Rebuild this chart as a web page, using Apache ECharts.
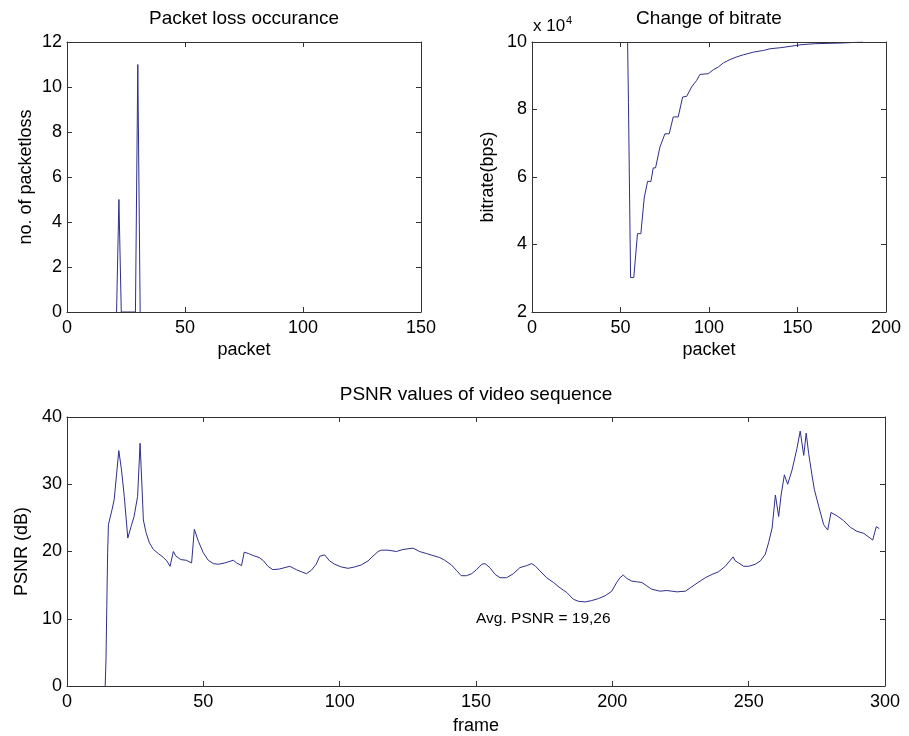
<!DOCTYPE html>
<html>
<head>
<meta charset="utf-8">
<script src="https://cdn.jsdelivr.net/npm/echarts@6/dist/echarts.min.js"></script>
<style>
html,body{margin:0;padding:0;background:#fff;}
#c{width:909px;height:736px;}
</style>
</head>
<body>
<div id="c"></div>
<script>
// ---- Packet loss occurance ----
var lossPacket = [21, 22, 23, 29, 30, 31];
var lossCount  = [0, 5, 0, 0, 11, 0];

// ---- Change of bitrate ----
var ratePacket = [54, 54.5, 55.3, 55.7, 57.5, 59.6, 61.5, 63.4, 64.3, 65.3, 67.2, 68.5, 69.8, 72.3, 75.1, 77.5, 79.8, 82.6, 85.1, 87.4, 90.2, 93.0, 94.9, 99.6, 102.5, 105.3, 108.1, 111.9, 115.7, 119.4, 125.1, 130.8, 134.5, 140.2, 145.8, 152, 160, 175, 187];
var rateBps    = [100000, 82000, 47000, 30200, 30200, 43200, 43200, 53800, 53800, 58700, 58700, 62700, 62700, 68900, 72800, 72800, 77800, 77800, 83700, 83900, 86700, 88600, 90400, 90600, 91800, 92600, 93800, 94800, 95600, 96200, 97000, 97500, 98000, 98300, 98700, 99200, 99500, 99700, 100000];

// ---- PSNR values of video sequence ----
var frames = [14.0,14.3,14.6,14.9,15.2,16.5,17.3,19.0,20.0,21.0,22.3,23.5,24.6,25.9,26.8,27.6,28.0,29.0,30.2,31.7,33.5,35.4,36.6,37.8,39.0,40.0,41.7,43.7,45.7,46.7,48.2,50.0,51.8,53.7,55.5,57.9,61.0,62.2,64.0,65.0,66.5,68.3,70.5,72.1,73.7,75.5,78.0,81.7,84.1,85.9,87.8,89.6,91.4,92.7,94.5,96.3,98.2,100.6,103.1,105.5,107.9,110.4,112.2,114.1,115.3,117.7,120.8,123.2,126.9,129.3,131.8,134.2,136.7,138.5,141.0,142.8,144.6,146.5,148.4,150.2,152.1,153.3,155.1,157.0,158.8,161.2,163.7,166.1,168.6,170.4,171.6,173.5,175.9,178.4,180.8,183.3,185.7,187.5,190.0,192.4,194.9,197.3,199.8,201.6,202.8,204.0,205.3,207.1,208.9,210.8,212.6,214.4,217.5,220.0,223.7,226.8,228.6,231.1,234.1,236.6,239.0,241.4,244.3,245.1,246.3,248.2,250.0,252.4,254.3,256.1,257.3,258.6,259.8,261.0,261.9,263.1,264.3,265.9,267.7,268.9,270.2,271.1,272.0,273.2,274.1,275.7,277.5,279.0,280.2,282.4,284.8,287.3,289.7,292.2,295.5,296.1,296.8,297.9];
var psnr = [0,4,12,19.8,24,26.2,27.7,35,32.1,28.2,22.0,23.7,25.2,28.2,36.1,28.7,24.7,22.8,21.3,20.3,19.7,19.1,18.6,17.8,20.0,19.3,18.8,18.7,18.3,23.3,21.5,19.8,18.7,18.2,18.1,18.3,18.7,18.3,17.9,19.9,19.7,19.4,19.1,18.6,17.8,17.3,17.4,17.8,17.3,17.0,16.7,17.2,18.1,19.3,19.5,18.6,18.1,17.7,17.5,17.7,18.0,18.6,19.3,20.0,20.2,20.2,20.0,20.3,20.5,20.0,19.7,19.4,19.1,18.7,18.0,17.2,16.4,16.4,16.7,17.3,18.1,18.2,17.6,16.6,16.1,16.1,16.7,17.6,17.9,18.2,17.9,17.1,16.1,15.4,14.6,13.9,12.9,12.6,12.5,12.7,13.0,13.4,14.1,15.4,16.1,16.5,16.0,15.6,15.5,15.4,14.9,14.4,14.1,14.2,14.0,14.1,14.6,15.3,16.1,16.6,17.0,17.8,19.2,18.6,18.3,17.8,17.8,18.1,18.6,19.6,21.3,23.5,28.4,25.2,28.4,31.4,30.0,32.1,35.3,37.9,34.3,37.6,34.6,31.4,29.2,26.7,24.0,23.2,25.8,25.3,24.6,23.6,23.0,22.7,21.7,21.7,23.7,23.4];
var avgLabel = 'Avg. PSNR = 19,26';
var avgPos = [150, 10];

function pairs(xs, ys) { return xs.map(function (x, i) { return [x, ys[i]]; }); }

var FONT = 'Liberation Sans, Arial, Helvetica, sans-serif';
var AX = '#333333';
var LINE = '#2e2e8c';

function xAx(grid, min, max, interval, name, top, gap) {
  return {
    type: 'value', gridIndex: grid, min: min, max: max, interval: interval,
    position: top ? 'top' : 'bottom', z: 5,
    name: top ? '' : name, nameLocation: 'middle', nameGap: gap || 29,
    nameTextStyle: { fontSize: 18, color: '#000', fontFamily: FONT },
    axisLine: { show: true, onZero: false, lineStyle: { color: AX, width: 1 } },
    axisTick: { show: true, inside: true, length: 5, lineStyle: { color: AX } },
    axisLabel: { show: !top, fontSize: 18, color: '#000', margin: 7, fontFamily: FONT },
    splitLine: { show: false }
  };
}
function yAx(grid, min, max, interval, name, right, fmt, gap) {
  return {
    type: 'value', gridIndex: grid, min: min, max: max, interval: interval,
    position: right ? 'right' : 'left', z: 5,
    name: right ? '' : name, nameLocation: 'middle', nameGap: gap || 33,
    nameTextStyle: { fontSize: 18, color: '#000', fontFamily: FONT },
    axisLine: { show: true, onZero: false, lineStyle: { color: AX, width: 1 } },
    axisTick: { show: true, inside: true, length: 5, lineStyle: { color: AX } },
    axisLabel: { show: !right, fontSize: 18, color: '#000', margin: 5, fontFamily: FONT, formatter: fmt },
    splitLine: { show: false }
  };
}

var chart = echarts.init(document.getElementById('c'), null, { renderer: 'canvas' });
var tStyle = { fontSize: 19, fontWeight: 'normal', color: '#000', fontFamily: FONT };
chart.setOption({
  backgroundColor: '#ffffff',
  animation: false,
  title: [
    { text: 'Packet loss occurance', left: 244, top: 9, textAlign: 'center', textStyle: tStyle, padding: 0 },
    { text: 'Change of bitrate', left: 709, top: 9, textAlign: 'center', textStyle: tStyle, padding: 0 },
    { text: 'PSNR values of video sequence', left: 476, top: 385, textAlign: 'center', textStyle: tStyle, padding: 0 }
  ],
  grid: [
    { left: 67, top: 42, width: 354, height: 270 },
    { left: 532, top: 42, width: 354, height: 270 },
    { left: 67, top: 417, width: 818, height: 271 }
  ],
  xAxis: [
    xAx(0, 0, 150, 50, 'packet', false, 29),
    xAx(0, 0, 150, 50, '', true),
    xAx(1, 0, 200, 50, 'packet', false, 29),
    xAx(1, 0, 200, 50, '', true),
    xAx(2, 0, 300, 50, 'frame', false, 31),
    xAx(2, 0, 300, 50, '', true)
  ],
  yAxis: [
    yAx(0, 0, 12, 2, 'no. of packetloss', false, null, 32),
    yAx(0, 0, 12, 2, '', true),
    yAx(1, 20000, 100000, 20000, 'bitrate(bps)', false, function (v) { return String(v / 10000); }, 35),
    yAx(1, 20000, 100000, 20000, '', true),
    yAx(2, 0, 40, 10, 'PSNR (dB)', false, null, 33),
    yAx(2, 0, 40, 10, '', true)
  ],
  graphic: [
    { type: 'text', left: 533, top: 18, style: { text: 'x 10', fontSize: 17, fill: '#000', fontFamily: FONT } },
    { type: 'text', left: 566, top: 15, style: { text: '4', fontSize: 11, fill: '#000', fontFamily: FONT } }
  ],
  series: [
    { type: 'line', xAxisIndex: 0, yAxisIndex: 0, data: pairs(lossPacket, lossCount), showSymbol: false, symbol: 'none', lineStyle: { color: LINE, width: 1 }, z: 1 },
    { type: 'line', xAxisIndex: 2, yAxisIndex: 2, data: pairs(ratePacket, rateBps), showSymbol: false, symbol: 'none', lineStyle: { color: LINE, width: 1 }, z: 1 },
    { type: 'line', xAxisIndex: 4, yAxisIndex: 4, data: pairs(frames, psnr), showSymbol: false, symbol: 'none', lineStyle: { color: LINE, width: 1 }, z: 1,
      markPoint: {
        symbol: 'circle', symbolSize: 0, silent: true,
        data: [{ coord: avgPos }],
        label: { show: true, position: 'right', distance: 0, formatter: avgLabel, fontSize: 15.5, color: '#000', fontFamily: FONT }
      }
    }
  ]
});
</script>
</body>
</html>
